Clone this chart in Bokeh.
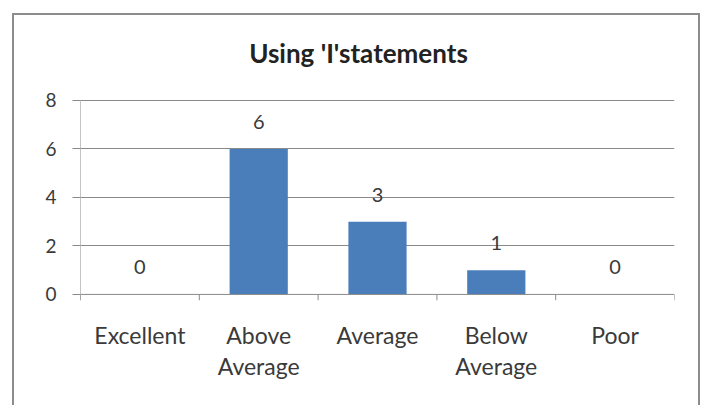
from bokeh.plotting import figure
from bokeh.models import (ColumnDataSource, FactorRange, Range1d, FixedTicker,
                          LabelSet, Label)
from bokeh.core.properties import value
from bokeh.embed import file_html
from bokeh.resources import INLINE

# Ratings for the "Using 'I' statements" item
categories = ["Excellent", "Above\nAverage", "Average", "Below\nAverage", "Poor"]
counts = [0, 6, 3, 1, 0]
y_ticks = [0, 2, 4, 6, 8]
title_text = "Using 'I'statements"

FONT = "Lato"
TEXT = "#3a3a3a"
GRID = "#8a8a8a"
BAR = "#4a7ebb"

y_max = y_ticks[-1]
y_low = -0.25            # room below zero for the category boundary ticks
y_top = 10.88            # headroom above the plot area that holds the title

src = ColumnDataSource(dict(cat=categories, n=counts, lbl=[str(v) for v in counts]))

p = figure(width=688, height=392, output_backend="svg", toolbar_location=None,
           x_range=FactorRange(factors=categories, range_padding=0),
           y_range=Range1d(y_low, y_top),
           min_border_left=66, min_border_right=28,
           min_border_top=15, min_border_bottom=107)
# chart area border, open at the bottom
p.styles = {"margin-left": "12px", "margin-top": "13px",
            "border-left": "2px solid #8c8c8c", "border-top": "2px solid #8c8c8c",
            "border-right": "2px solid #8c8c8c"}
p.outline_line_color = None
p.background_fill_color = "white"
p.border_fill_color = "white"

# chart title, in the headroom above the value axis
p.add_layout(Label(x=2.34, y=9.96, text=title_text, text_align="center",
                   text_baseline="middle", text_font=FONT, text_font_size="26px",
                   text_font_style="bold", text_color="#222222"))

# bars
p.vbar(x="cat", top="n", width=0.49, source=src, fill_color=BAR, line_color=None)

# value labels above each bar
p.add_layout(LabelSet(x="cat", y="n", text="lbl", source=src, text_align="center",
                      text_baseline="middle", y_offset=27, text_font=value(FONT),
                      text_font_size="20px", text_color=TEXT))

# axis lines and category boundary ticks
n_cat = len(categories)
p.segment(x0=[0], x1=[n_cat], y0=[0], y1=[0], line_color=GRID, line_width=1)
p.segment(x0=[0], x1=[0], y0=[y_low], y1=[y_max], line_color=GRID, line_width=1)
bounds = list(range(n_cat + 1))
p.segment(x0=bounds, x1=bounds, y0=[y_low] * len(bounds), y1=[0] * len(bounds),
          line_color=GRID, line_width=1)

# y axis: ticks and labels
p.yaxis.ticker = FixedTicker(ticks=y_ticks)
p.yaxis.axis_line_color = None
p.yaxis.major_tick_line_color = GRID
p.yaxis.major_tick_out = 8
p.yaxis.major_tick_in = 0
p.yaxis.minor_tick_line_color = None
p.yaxis.major_label_standoff = 16
p.yaxis.major_label_text_font = FONT
p.yaxis.major_label_text_font_size = "19px"
p.yaxis.major_label_text_color = TEXT

# x axis: labels only
p.xaxis.axis_line_color = None
p.xaxis.major_tick_line_color = None
p.xaxis.minor_tick_line_color = None
p.xaxis.major_label_standoff = 14
p.xaxis.major_label_text_font = FONT
p.xaxis.major_label_text_font_size = "23px"
p.xaxis.major_label_text_color = TEXT
p.xaxis.major_label_text_line_height = 1.12

p.xgrid.grid_line_color = None
p.ygrid.ticker = FixedTicker(ticks=y_ticks[1:])
p.ygrid.grid_line_color = GRID
p.ygrid.grid_line_width = 1

open("out.html", "w").write(file_html(p, INLINE))
